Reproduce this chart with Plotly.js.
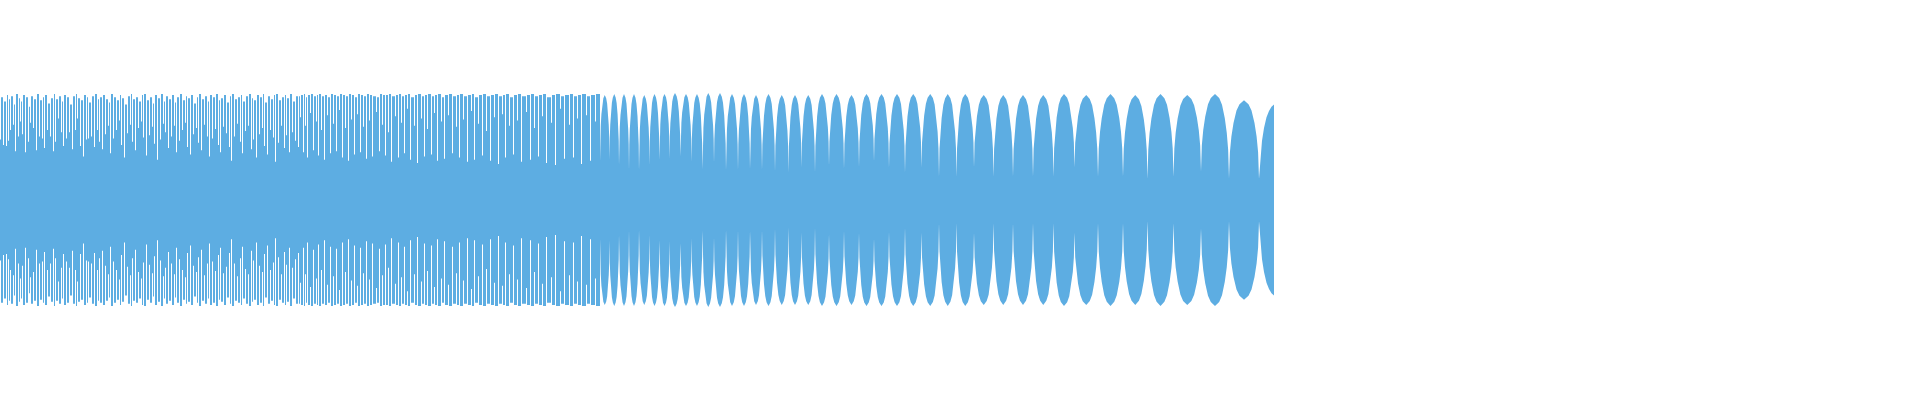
<!DOCTYPE html>
<html><head><meta charset="utf-8">
<script src="https://cdn.plot.ly/plotly-3.0.1.min.js"></script>
<style>html,body{margin:0;padding:0;background:#fff}#chart{width:1920px;height:400px}</style>
</head><body><div id="chart"></div>
<script>
// ---- Part 1: dense column section (x in sample columns, amplitude normalised) ----
// narrow gap positions, the envelope at each gap, and the column height after it
const gapX = [0,3,6,8,10,13,15,18,20,22,25,28,30,33,36,39,42,44,47,50,53,55,58,61,63,66,69,72,75,77,80,83,86,88,91,94,97,99,
  102,105,108,110,113,116,119,121,124,127,130,132,135,138,141,143,146,149,152,154,157,160,163,165,168,171,174,176,179,182,
  185,187,190,193,196,198,201,204,207,209,212,215,218,220,223,226,229,231,234,237,240,242,245,248,251,253,256,259,262,264,
  267,270,273,275,278,281,284,286,289,292,295,
  298,300,303,305,307,310,313,316,318,321,324,327,330,333,336,339,342,345,348,351,
  354,357,360,363,366,369,372,376,379,382,385,388,391,395,398,401,404,407,410,414,
  417,421,424,427,431,434,437,441,444,448,452,456,459,463,467,471,474,478,482,486,
  490,494,498,502,505,509,513,517,521,526,530,534,538,542,546,551,555,560,564,569,
  573,577,581,586,590,595];
const gapAmp = [0.57,0.52,0.51,0.56,0.66,0.71,0.46,0.60,0.74,0.62,0.45,0.55,0.73,0.68,0.47,0.60,0.58,0.49,0.66,0.60,
  0.46,0.55,0.77,0.64,0.51,0.58,0.64,0.48,0.66,0.77,0.51,0.41,0.57,0.58,0.60,0.50,0.66,0.55,
  0.48,0.62,0.70,0.44,0.58,0.66,0.75,0.52,0.40,0.63,
  0.71,0.55,0.47,0.68,0.74,0.59,0.42,0.61,0.69,0.53,
  0.38,0.57,0.72,0.64,0.49,0.60,0.70,0.45,0.56,0.66,
  0.73,0.50,0.43,0.62,0.68,0.54,0.47,0.71,0.60,0.41,
  0.58,0.67,0.52,0.45,0.69,0.63,0.50,0.37,0.60,0.72,
  0.55,0.44,0.65,0.70,0.48,0.57,0.40,0.62,0.68,0.51,
  0.43,0.66,0.59,0.36,0.54,0.70,0.49,0.61,0.45,0.64,
  0.56,
  0.50,0.78,0.45,0.70,0.40,0.82,0.47,0.74,0.42,0.66,0.38,0.80,0.44,0.72,0.46,0.85,0.40,0.68,0.37,0.76,
  0.43,0.81,0.45,0.69,0.39,0.75,0.41,0.83,0.46,0.71,0.42,0.64,0.36,0.79,0.40,0.73,0.44,0.86,0.38,0.70,
  0.35,0.77,0.41,0.67,0.43,0.82,0.37,0.74,0.39,0.80,0.44,0.69,0.40,0.76,0.36,0.84,0.38,0.72,0.42,0.65,
  0.37,0.78,0.34,0.81,0.40,0.70,0.43,0.75,0.36,0.83,0.38,0.68,0.41,0.79,0.35,0.73,0.33,0.86,0.39,0.71,
  0.40,0.77,0.34,0.80,0.37,0.74];
const toothAmp = [0.97,0.93,0.99,0.95,0.98,0.90,1.00,0.96,0.93,0.99,0.97,0.88,0.98,0.95,1.00,0.94,0.97,0.99,0.91,0.96,
  1.00,0.95,0.98,0.93,0.99,0.97,0.90,0.98,1.00,0.96,0.94,0.99,0.97,0.92,0.98,1.00,0.95,0.97,
  0.99,0.95,0.92,1.00,0.97,0.94,0.99,0.96,0.90,0.98,
  1.00,0.95,0.97,0.93,0.99,1.00,0.94,0.97,0.91,0.99,
  0.96,1.00,0.93,0.98,0.95,0.99,0.92,0.97,1.00,0.94,
  0.98,0.96,0.99,0.91,0.97,1.00,0.95,0.98,0.93,0.99,
  0.97,1.00,0.94,0.96,0.99,0.92,0.98,1.00,0.95,0.97,
  0.99,0.93,0.98,1.00,0.96,0.94,0.99,0.97,1.00,0.92,
  0.98,0.95,0.99,1.00,0.94,0.97,0.99,0.96,1.00,0.93,
  0.98,
  0.98,0.99,1.00,0.97,0.99,1.00,0.98,0.99,1.00,0.98,0.99,0.97,1.00,0.99,0.98,1.00,0.99,0.98,1.00,0.99,
  0.97,1.00,0.99,0.98,1.00,0.99,0.98,0.97,1.00,0.99,0.99,1.00,0.98,0.99,1.00,0.98,0.99,1.00,0.97,0.99,
  1.00,0.98,0.99,1.00,0.98,0.99,1.00,0.97,0.99,1.00,0.98,0.99,1.00,0.98,0.99,1.00,0.97,0.99,1.00,0.98,
  0.99,1.00,0.98,0.99,1.00,0.97,0.99,1.00,0.98,0.99,1.00,0.98,0.99,1.00,0.97,0.99,1.00,0.98,0.99,1.00,
  0.98,0.99,1.00,0.98,0.99,1.00];
const denseEnd = 600;

// ---- Part 2: lobe section ----
const lobeEdge = [600,609.5,619,629,639,649.5,659.5,669.5,680.5,691.5,702.5,
  714,726,738,750,762,775,788.5,801.5,815,829,
  844,859,874,889,905,
  921.5,939,956.5,974,993.5,1013,1033,1053.5,1074.5,1098,
  1123,1147.5,1173.5,1201,1229,1259];
const waistAmp = [0.36,0.38,0.33,0.28,0.28,0.33,0.38,0.39,0.41,0.36,0.29,
  0.35,0.28,0.28,0.29,0.28,0.27,0.26,0.31,0.26,0.32,
  0.29,0.31,0.36,0.30,0.26,
  0.31,0.22,0.22,0.31,0.22,0.22,0.22,0.22,0.31,0.22,
  0.22,0.20,0.22,0.27,0.20,0.20];
const lobeAmp = [0.99,1.00,1.00,1.00,0.99,1.00,1.00,1.01,1.00,1.00,
  1.01,1.01,1.00,1.00,0.99,1.00,0.99,0.99,0.99,1.00,
  1.00,0.99,1.00,1.00,1.00,
  1.00,1.00,1.00,1.00,0.99,0.99,0.99,0.99,1.00,0.99,
  1.00,0.99,1.00,0.99,1.00,0.94];
// lobe outline (fraction across lobe, fraction of lobe height)
const profT = [0,0.03,0.08,0.15,0.25,0.35,0.5,0.65,0.75,0.85,0.92,0.97,1];
const profV = [0,0.34,0.54,0.71,0.87,0.95,1,0.95,0.87,0.71,0.54,0.34,0];
// final rising, cut-off lobe
const tailX = [1259,1260.5,1262,1264,1266.5,1269,1271.5,1274];
const tailAmp = [0.20,0.42,0.56,0.68,0.78,0.84,0.88,0.90];

const COLOR = '#5DADE2';

// build dense path (step outline)
const nDense = Math.min(gapX.length, gapAmp.length, toothAmp.length);
const dX = [], dY = [];
for (let i = 0; i < nDense; i++) {
  dX.push(gapX[i], gapX[i] + 1);
  dY.push(gapAmp[i], toothAmp[i]);
}
dX.push(denseEnd); dY.push(toothAmp[nDense - 1]);

// build lobe path
const lX = [], lY = [];
for (let i = 0; i < lobeAmp.length; i++) {
  const x0 = lobeEdge[i], x1 = lobeEdge[i + 1], w0 = waistAmp[i], w1 = waistAmp[i + 1], p = lobeAmp[i];
  for (let k = (i === 0 ? 0 : 1); k < profT.length; k++) {
    const t = profT[k];
    const base = w0 + (w1 - w0) * t;
    lX.push(x0 + (x1 - x0) * t);
    lY.push(base + (p - base) * profV[k]);
  }
}
for (let k = 1; k < tailX.length; k++) { lX.push(tailX[k]); lY.push(tailAmp[k]); }

const neg = a => a.map(v => -v);
const common = {mode: 'lines', hoverinfo: 'skip', showlegend: false};
const traces = [
  Object.assign({x: dX, y: neg(dY), line: {width: 0, shape: 'hv', color: COLOR}}, common),
  Object.assign({x: dX, y: dY, line: {width: 0, shape: 'hv', color: COLOR}, fill: 'tonexty', fillcolor: COLOR}, common),
  Object.assign({x: lX, y: neg(lY), line: {width: 0, color: COLOR}}, common),
  Object.assign({x: lX, y: lY, line: {width: 0, color: COLOR}, fill: 'tonexty', fillcolor: COLOR}, common)
];
const layout = {
  width: 1920, height: 400,
  margin: {l: 0, r: 0, t: 0, b: 0, pad: 0},
  paper_bgcolor: '#ffffff', plot_bgcolor: '#ffffff',
  xaxis: {range: [0, 1920], visible: false, fixedrange: true},
  yaxis: {range: [-1.887, 1.887], visible: false, fixedrange: true},
  showlegend: false
};
Plotly.newPlot('chart', traces, layout, {staticPlot: true, displayModeBar: false});
</script></body></html>
